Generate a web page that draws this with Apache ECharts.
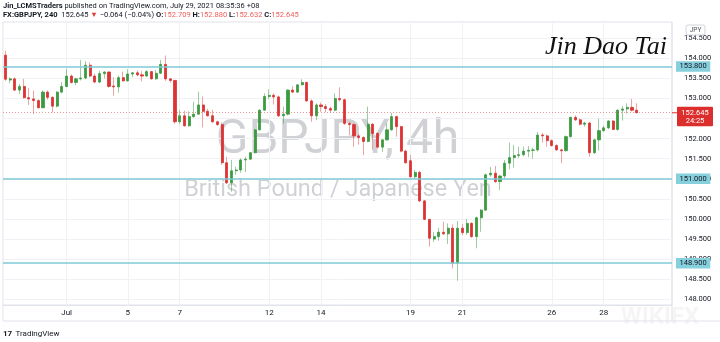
<!DOCTYPE html>
<html><head><meta charset="utf-8">
<script src="https://cdn.jsdelivr.net/npm/echarts@6/dist/echarts.min.js"></script>
<style>html,body{margin:0;padding:0;background:#fff}#c{width:720px;height:342px}</style>
</head><body><div id="c"></div>
<script>
// ---- time axis: trading days and number of 4h bars on each day ----
const dayList = ['06-28','06-29','06-30','07-01','07-02','07-03','07-05','07-06','07-07','07-08','07-09','07-10','07-12','07-13','07-14','07-15','07-16','07-17','07-19','07-20','07-21','07-22','07-23','07-24','07-26','07-27','07-28','07-29'];
const barsPerDay = [1,6,6,6,6,1,5,6,6,6,6,1,5,6,6,6,6,1,5,6,6,6,6,1,5,6,6,2];
const tickDays = ['07-01','07-05','07-07','07-12','07-14','07-19','07-21','07-26','07-28'];
const tickLabels = ['Jul','5','7','12','14','19','21','26','28'];
const emptyBarsRight = 7;

// ---- OHLC (GBPJPY 4h) ----
const opens = [
154.08,153.46,153.49,153.21,153.30,153.02,152.99,152.95,152.77,153.16,
153.03,152.81,153.16,153.30,153.56,153.40,153.49,153.51,153.83,153.56,
153.41,153.62,153.66,153.31,153.29,153.52,153.44,153.61,153.64,153.59,
153.56,153.67,153.49,153.63,153.85,153.49,153.45,152.42,152.57,152.32,
152.55,152.61,152.84,152.68,152.57,152.42,152.35,151.40,150.90,151.20,
151.22,151.47,151.49,151.65,152.22,152.71,153.05,153.08,153.04,152.57,
152.61,153.21,153.16,153.34,153.40,152.94,152.57,152.84,152.80,152.75,
152.71,153.00,152.97,152.38,152.35,152.07,152.03,151.93,152.36,152.13,
151.79,151.97,152.22,152.55,152.30,151.69,151.45,151.05,151.16,150.45,
149.99,149.50,149.56,149.67,149.63,149.77,148.90,149.77,149.66,149.89,
149.56,150.03,150.22,151.10,151.14,150.93,151.07,151.39,151.53,151.58,
151.60,151.69,151.71,151.72,152.09,152.07,151.95,151.83,151.72,151.70,
152.05,152.53,152.47,152.36,152.39,151.65,151.97,152.20,152.27,152.44,
152.23,152.71,152.74,152.78,152.709];
const highs = [
154.19,153.53,153.52,153.36,153.49,153.26,153.20,152.98,153.20,153.20,
153.05,153.18,153.41,153.74,153.60,153.52,153.96,153.93,153.90,153.62,
153.69,153.68,153.67,153.53,153.57,153.67,153.73,153.66,153.70,153.68,
153.71,153.68,153.71,153.96,154.07,153.51,153.47,152.71,152.70,152.68,
152.92,153.17,153.05,152.74,152.72,152.45,152.40,151.55,151.47,151.30,
151.51,151.55,151.67,152.24,152.73,153.13,153.23,153.13,153.07,152.80,
153.23,153.31,153.36,153.48,153.42,152.98,152.88,152.90,152.86,152.80,
153.13,153.28,153.00,152.42,152.38,152.13,152.06,152.80,152.39,152.16,
151.99,152.39,152.64,152.57,152.32,151.72,151.59,151.22,151.20,150.47,
150.00,149.68,149.78,149.93,149.89,149.86,149.95,149.87,150.00,149.92,
150.06,150.25,151.13,151.30,151.32,151.10,151.47,151.90,151.84,151.80,
151.80,151.82,151.78,152.17,152.14,152.10,151.98,151.86,151.75,152.08,
152.55,152.58,152.50,152.42,152.42,152.00,152.50,152.32,152.46,152.46,
152.73,152.81,152.88,152.99,152.880];
const lows = [
153.44,153.38,153.19,153.11,153.00,152.84,152.61,152.75,152.76,152.97,
152.65,152.78,153.13,153.28,153.37,153.33,153.45,153.48,153.53,153.38,
153.38,153.50,153.27,153.07,153.15,153.42,153.42,153.53,153.55,153.43,
153.54,153.47,153.47,153.61,153.44,153.40,152.37,152.36,152.30,152.30,
152.52,152.59,152.28,152.55,152.40,152.32,151.35,150.87,150.68,151.10,
151.15,151.17,151.47,151.63,152.20,152.70,152.98,152.85,152.54,152.38,
152.58,153.14,153.14,153.33,152.92,152.42,152.46,152.67,152.66,152.65,
152.68,152.93,152.34,152.09,151.80,151.85,151.59,151.91,151.72,151.76,
151.67,151.95,152.20,152.05,151.66,151.38,151.03,151.00,150.42,149.97,
149.31,149.43,149.46,149.60,149.38,148.77,148.46,149.60,149.60,149.53,
149.27,149.68,150.20,151.05,150.90,150.72,151.00,151.24,151.28,151.52,
151.56,151.54,151.50,151.68,151.90,151.80,151.80,151.70,151.39,151.68,
152.03,152.44,152.33,152.30,151.55,151.62,151.70,152.17,152.24,152.21,
152.20,152.45,152.62,152.68,152.632];
const closes = [
153.48,153.49,153.21,153.30,153.02,152.99,152.95,152.77,153.16,153.03,
152.81,153.16,153.30,153.56,153.40,153.49,153.51,153.83,153.56,153.41,
153.62,153.66,153.30,153.29,153.52,153.44,153.61,153.64,153.59,153.56,
153.67,153.49,153.63,153.85,153.49,153.45,152.42,152.57,152.32,152.55,
152.61,152.84,152.68,152.57,152.42,152.35,151.40,150.90,151.20,151.22,
151.47,151.49,151.65,152.22,152.71,153.05,153.08,153.04,152.57,152.61,
153.21,153.16,153.34,153.40,152.94,152.57,152.84,152.80,152.75,152.71,
153.00,152.97,152.38,152.35,152.07,152.03,151.93,152.36,152.13,151.79,
151.97,152.22,152.55,152.30,151.69,151.40,151.05,151.16,150.45,149.99,
149.52,149.56,149.67,149.63,149.77,148.90,149.77,149.66,149.89,149.56,
150.03,150.22,151.10,151.14,150.93,151.07,151.39,151.53,151.58,151.60,
151.69,151.71,151.72,152.09,152.07,151.95,151.83,151.72,151.70,152.05,
152.53,152.47,152.36,152.39,151.65,151.97,152.20,152.27,152.44,152.23,
152.71,152.74,152.78,152.709,152.645];

// ---- price scale ----
const priceTicks = [148.0,148.5,149.0,149.5,150.0,150.5,151.0,151.5,152.0,152.5,153.0,153.5,154.0,154.5];
const priceMin = 147.857, priceMax = 154.906;
const levelLines = [153.8, 151.0, 148.9];
const lastPrice = 152.645;
const barCountdown = '24:25';

// ---- build ----
const categories = [];
const tickIndexLabel = {};
dayList.forEach((d, i) => {
  for (let k = 0; k < barsPerDay[i]; k++) {
    const t = tickDays.indexOf(d);
    if (k === 0 && t >= 0) tickIndexLabel[categories.length] = tickLabels[t];
    categories.push(d + ' #' + (k + 1));
  }
});
for (let j = 0; j < emptyBarsRight; j++) categories.push('pad' + j);

const wickData = opens.map((o, i) => [o, closes[i], lows[i], highs[i]]);
const bodyData = opens.map((o, i) => [o, closes[i], Math.min(o, closes[i]), Math.max(o, closes[i])]);

const UP = '#3c9a41', DOWN = '#dc3434';
const FONT = 'Roboto';
const TXT = '#131722';
const LEVEL = '#7fcad7';

const chart = echarts.init(document.getElementById('c'), null, {renderer: 'canvas'});
const baseOption = {
  animation: false,
  backgroundColor: '#ffffff',
  grid: {left: 3, right: 48, top: 22, bottom: 37, show: true, borderColor: '#e0e3eb', borderWidth: 1, backgroundColor: 'transparent'},
  xAxis: {
    type: 'category', data: categories, boundaryGap: true,
    axisLine: {show: true, lineStyle: {color: '#e0e3eb'}},
    axisTick: {show: false},
    splitLine: {show: false},
    axisLabel: {
      interval: (idx) => tickIndexLabel[idx] !== undefined,
      formatter: (v, idx) => tickIndexLabel[idx] || '',
      color: TXT, fontSize: 8, fontFamily: FONT, margin: 4
    }
  },
  yAxis: {
    type: 'value', position: 'right', min: priceMin, max: priceMax, scale: true,
    axisLine: {show: false}, axisTick: {show: false}, splitLine: {show: false},
    axisLabel: {customValues: priceTicks, formatter: v => v.toFixed(3), color: TXT, fontSize: 7.5, fontFamily: FONT, margin: 12}
  },
  graphic: [
    {type: 'text', left: 3, top: 2, z: 10, style: {
      text: '{b|Jin_LCMSTraders}{n| published on TradingView.com, July 29, 2021 08:35:36 +08}',
      rich: {b: {fontWeight: 'bold', fontSize: 7.5, fontFamily: FONT, fill: TXT}, n: {fontSize: 7.5, fontFamily: FONT, fill: TXT}}}},
    {type: 'text', left: 3, top: 11, z: 10, style: {
      text: '{b|FX:GBPJPY, 240}{n|  152.645 }{r|▼}{n| −0.064 (−0.04%) }{b|O:}{v|152.709}{b| H:}{v|152.880}{b| L:}{v|152.632}{b| C:}{v|152.645}',
      rich: {
        b: {fontWeight: 'bold', fontSize: 7.5, fontFamily: FONT, fill: TXT},
        n: {fontSize: 7.5, fontFamily: FONT, fill: TXT},
        r: {fontSize: 7.5, fontFamily: FONT, fill: '#e53935'},
        v: {fontSize: 7.5, fontFamily: FONT, fill: '#f0605c'}
      }}},
    {type: 'text', z: 0, style: {x: 337.5, y: 141, text: 'GBPJPY, 4h', align: 'center', verticalAlign: 'middle', fontSize: 48, fontFamily: FONT, fill: 'rgba(120,123,134,0.35)'}},
    {type: 'text', z: 0, style: {x: 338, y: 190, text: 'British Pound / Japanese Yen', align: 'center', verticalAlign: 'middle', fontSize: 23.5, fontFamily: FONT, fill: 'rgba(120,123,134,0.35)'}},
    {type: 'text', z: 10, style: {x: 606, y: 47, text: 'Jin Dao Tai', align: 'center', verticalAlign: 'middle', fontSize: 26, fontStyle: 'italic', fontFamily: 'Liberation Serif', fill: '#111'}},
    {type: 'rect', z: 10, shape: {x: 686, y: 25, width: 19, height: 10, r: 2}, style: {fill: '#fff', stroke: '#d1d4dc', lineWidth: 1}},
    {type: 'text', z: 11, style: {x: 695.5, y: 30.5, text: 'JPY', align: 'center', verticalAlign: 'middle', fontSize: 6.5, fontFamily: FONT, fill: '#50535e'}},
    {type: 'line', z: 1, shape: {x1: 672, y1: 22, x2: 672, y2: 321}, style: {stroke: '#e0e3eb', lineWidth: 1}},
    {type: 'line', z: 1, shape: {x1: 3, y1: 321, x2: 720, y2: 321}, style: {stroke: '#e0e3eb', lineWidth: 1}},
    {type: 'line', z: 1, shape: {x1: 3, y1: 305, x2: 3, y2: 321}, style: {stroke: '#e0e3eb', lineWidth: 1}},
    {type: 'text', z: 0, style: {x: 660, y: 318, text: 'WIKIFX', align: 'center', verticalAlign: 'middle', fontSize: 24, fontWeight: 'bold', fontFamily: FONT, fill: 'rgba(0,0,0,0.04)'}},
    {type: 'text', left: 3, top: 328, z: 10, style: {
      text: '{l|17} {t|TradingView}',
      rich: {l: {fontWeight: 'bold', fontSize: 8, fontFamily: FONT, fill: TXT}, t: {fontSize: 8, fontFamily: FONT, fill: TXT}}}}
  ],
  series: [
    {
      name: 'wicks', type: 'candlestick', data: wickData, barWidth: 1, z: 3,
      itemStyle: {color: 'rgba(60,154,65,0.5)', color0: 'rgba(220,52,52,0.45)', borderColor: 'rgba(60,154,65,0.5)', borderColor0: 'rgba(220,52,52,0.45)', borderWidth: 1},
      emphasis: {disabled: true}, silent: true,
      markLine: {
        silent: true, symbol: ['none', 'none'], z: 1, animation: false,
        label: {show: false}, emphasis: {disabled: true},
        lineStyle: {color: '#f0f2f6', width: 1, type: 'solid'},
        data: Object.keys(tickIndexLabel).map(i => ({xAxis: categories[+i]})).concat(priceTicks.map(v => ({yAxis: v})))
      }
    },
    {
      name: 'bodies', type: 'candlestick', data: bodyData, barWidth: 2.6, z: 4,
      itemStyle: {color: UP, color0: DOWN, borderColor: UP, borderColor0: DOWN, borderWidth: 0.8},
      emphasis: {disabled: true}, silent: true,
      markLine: {
        silent: true, symbol: ['none', 'none'], animation: false,
        label: {show: false}, emphasis: {disabled: true},
        lineStyle: {color: 'rgba(220,52,52,0.5)', width: 1, type: [1, 2]},
        data: [{yAxis: lastPrice}]
      }
    },
    {
      name: 'levels', type: 'line', data: [], z: 6,
      markLine: {
        silent: true, symbol: ['none', 'none'], animation: false, emphasis: {disabled: true},
        lineStyle: {color: LEVEL, width: 1.6, type: 'solid'},
        label: {show: true, position: 'end', distance: 4, formatter: p => p.value.toFixed(3),
          backgroundColor: '#86cfdc', color: TXT, fontSize: 7.5, fontFamily: FONT, padding: [1.5, 3.5, 1, 3.5]},
        data: levelLines.map(v => ({yAxis: v}))
      }
    }
  ]
};
chart.setOption(baseOption);

// current price tag on the price scale, positioned through the axis scale
const yLast = chart.convertToPixel({yAxisIndex: 0}, lastPrice);
chart.setOption({graphic: baseOption.graphic.concat([
  {type: 'line', z: 20, shape: {x1: 672, y1: yLast, x2: 677, y2: yLast}, style: {stroke: '#dd2e2e', lineWidth: 1}},
  {type: 'rect', z: 20, shape: {x: 677, y: yLast - 6, width: 36, height: 19.5, r: 1}, style: {fill: '#dd2e2e'}},
  {type: 'text', z: 21, style: {x: 695, y: yLast, text: lastPrice.toFixed(3), align: 'center', verticalAlign: 'middle', fontSize: 7.5, fontFamily: FONT, fill: '#fff'}},
  {type: 'text', z: 21, style: {x: 695, y: yLast + 8.5, text: barCountdown, align: 'center', verticalAlign: 'middle', fontSize: 7.5, fontFamily: FONT, fill: '#fff'}}
])});
</script></body></html>
